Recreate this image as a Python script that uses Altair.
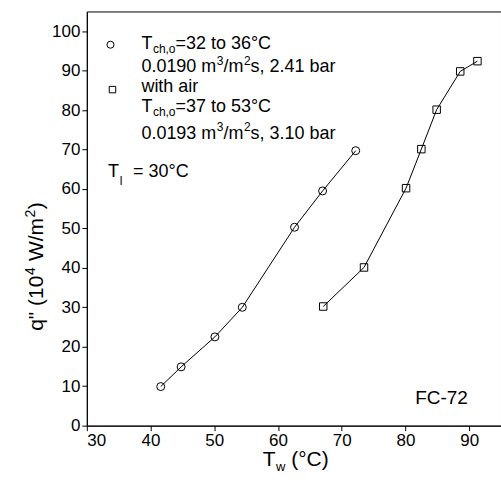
import altair as alt
import pandas as pd

# ---- data ----
tw_plain = [41.6, 44.8, 50.1, 54.4, 62.6, 67.0, 72.2]
q_plain = [9.9, 14.9, 22.5, 30.0, 50.3, 59.5, 69.7]
tw_air = [67.1, 73.5, 80.1, 82.5, 84.9, 88.6, 91.3]
q_air = [30.2, 40.1, 60.2, 70.1, 80.1, 89.8, 92.4]

x_ticks = [30, 40, 50, 60, 70, 80, 90]
y_ticks = [0, 10, 20, 30, 40, 50, 60, 70, 80, 90, 100]

F = "Liberation Sans"
W, H = 415, 415

df_plain = pd.DataFrame({"tw": tw_plain, "q": q_plain})
df_air = pd.DataFrame({"tw": tw_air, "q": q_air})
one = pd.DataFrame({"a": [0]})

xs = alt.Scale(domain=[30, 95], nice=False, zero=False)
ys = alt.Scale(domain=[0, 105], nice=False, zero=False)

xenc = alt.X("tw:Q", scale=xs, title=None,
             axis=alt.Axis(values=x_ticks, format="d"))
yenc = alt.Y("q:Q", scale=ys, title=None,
             axis=alt.Axis(values=y_ticks, format="d"))

# approximate Arial advance widths (em)
AW = {"0": .556, "1": .556, "2": .556, "3": .556, "4": .556, "5": .556, "6": .556,
      "7": .556, "8": .556, "9": .556, ".": .278, " ": .278, "m": .833, "/": .278,
      "s": .5, ",": .278, "b": .556, "a": .556, "r": .333, "T": .611, "c": .5,
      "h": .556, "o": .556, "=": .584, "t": .278, "°": .4, "C": .722, "w": .722,
      "i": .278, "l": .222, "F": .611, "-": .333, "(": .333, ")": .333, "q": .556,
      '"': .355, "W": .944}


def width(s, size):
    return sum(AW.get(ch, .556) for ch in s) * size


def series(df, shape, size):
    line = alt.Chart(df).mark_line(color="black", strokeWidth=1).encode(x=xenc, y=yenc)
    pts = alt.Chart(df).mark_point(shape=shape, size=size, color="black",
                                   filled=False, strokeWidth=1, opacity=1).encode(x=xenc, y=yenc)
    return [line, pts]


def txt(s, x, y, size, angle=0):
    return alt.Chart(one).mark_text(text=s, font=F, fontSize=size, align="left",
                                    baseline="alphabetic", angle=angle,
                                    color="black").encode(x=alt.value(x), y=alt.value(y))


def mk(shape, x, y, size):
    return alt.Chart(one).mark_point(shape=shape, size=size, color="black", filled=False,
                                     strokeWidth=1, opacity=1).encode(x=alt.value(x), y=alt.value(y))


def rich(pieces, x, y, size, small):
    """pieces: list of (text, kind) with kind in 'n', 'sub', 'sup'"""
    out = []
    cx = x
    for s, kind in pieces:
        sz = size if kind == "n" else small
        lead = len(s) - len(s.lstrip(" "))
        cx += width(" " * lead, sz)
        s = s.lstrip(" ")
        if kind == "n":
            out.append(txt(s, cx, y, size))
            cx += width(s, size)
        elif kind == "sub":
            out.append(txt(s, cx + 0.5, y + 4.5, small))
            cx += width(s, small) + 0.5
        else:
            out.append(txt(s, cx + 0.5, y - 7.5, small))
            cx += width(s, small) + 0.5
    return out


layers = []
layers += series(df_plain, "circle", 64)
layers += series(df_air, "square", 56)

LS = 18   # legend font size
SS = 12   # sub/superscript size
LX = 54.7
layers += [mk("circle", 23.7, 33.3, 50), mk("square", 25.7, 78.3, 42)]
layers += rich([("T", "n"), ("ch,o", "sub"), ("=32 to 36°C", "n")], LX, 37.3, LS, SS)
layers += rich([("0.0190 m", "n"), ("3", "sup"), ("/m", "n"), ("2", "sup"),
                ("s, 2.41 bar", "n")], LX, 60.7, LS, SS)
layers += rich([("with air", "n")], LX, 80.7, LS, SS)
layers += rich([("T", "n"), ("ch,o", "sub"), ("=37 to 53°C", "n")], LX, 100.7, LS, SS)
layers += rich([("0.0193 m", "n"), ("3", "sup"), ("/m", "n"), ("2", "sup"),
                ("s, 3.10 bar", "n")], LX, 127.3, LS, SS)
layers += [txt("T", 21.3, 165.7, LS), txt("l", 33, 173.5, SS), txt("= 30°C", 46.3, 165.7, LS)]
layers += [txt("FC-72", 329, 393, 19)]

# x axis title
TS = 21
layers += rich([("T", "n"), ("w", "sub"), (" (°C)", "n")], 176.3, 455.7, TS, 13)

# y axis title (rotated, reads bottom to top)
bx = -44
y0 = 320
s1 = 'q" (10'
a1 = width(s1, TS)
a4 = width("4", 14) + 1
asp = width(" ", TS)
a2 = width("W/m", TS)
layers += [
    txt(s1, bx, y0, TS, 270),
    txt("4", bx - 8, y0 - a1 - 0.5, 14, 270),
    txt("W/m", bx, y0 - a1 - a4 - asp, TS, 270),
    txt("2", bx - 8, y0 - a1 - a4 - asp - a2 - 0.5, 14, 270),
    txt(")", bx, y0 - a1 - a4 - asp - a2 - a4, TS, 270),
]

chart = alt.layer(*layers).properties(
    width=W, height=H,
    autosize=alt.AutoSizeParams(type="none"),
    padding={"left": 87, "top": 11, "right": 0, "bottom": 63},
    background="white",
).configure_axis(
    labelFont=F, labelFontSize=17, labelColor="black",
    tickColor="black", domainColor="black", tickSize=5, tickWidth=1,
    domainWidth=1, grid=False, labelPadding=2,
).configure_view(stroke="black", strokeWidth=1)

chart.save("out.html", embed_options={"renderer": "svg", "actions": False})
